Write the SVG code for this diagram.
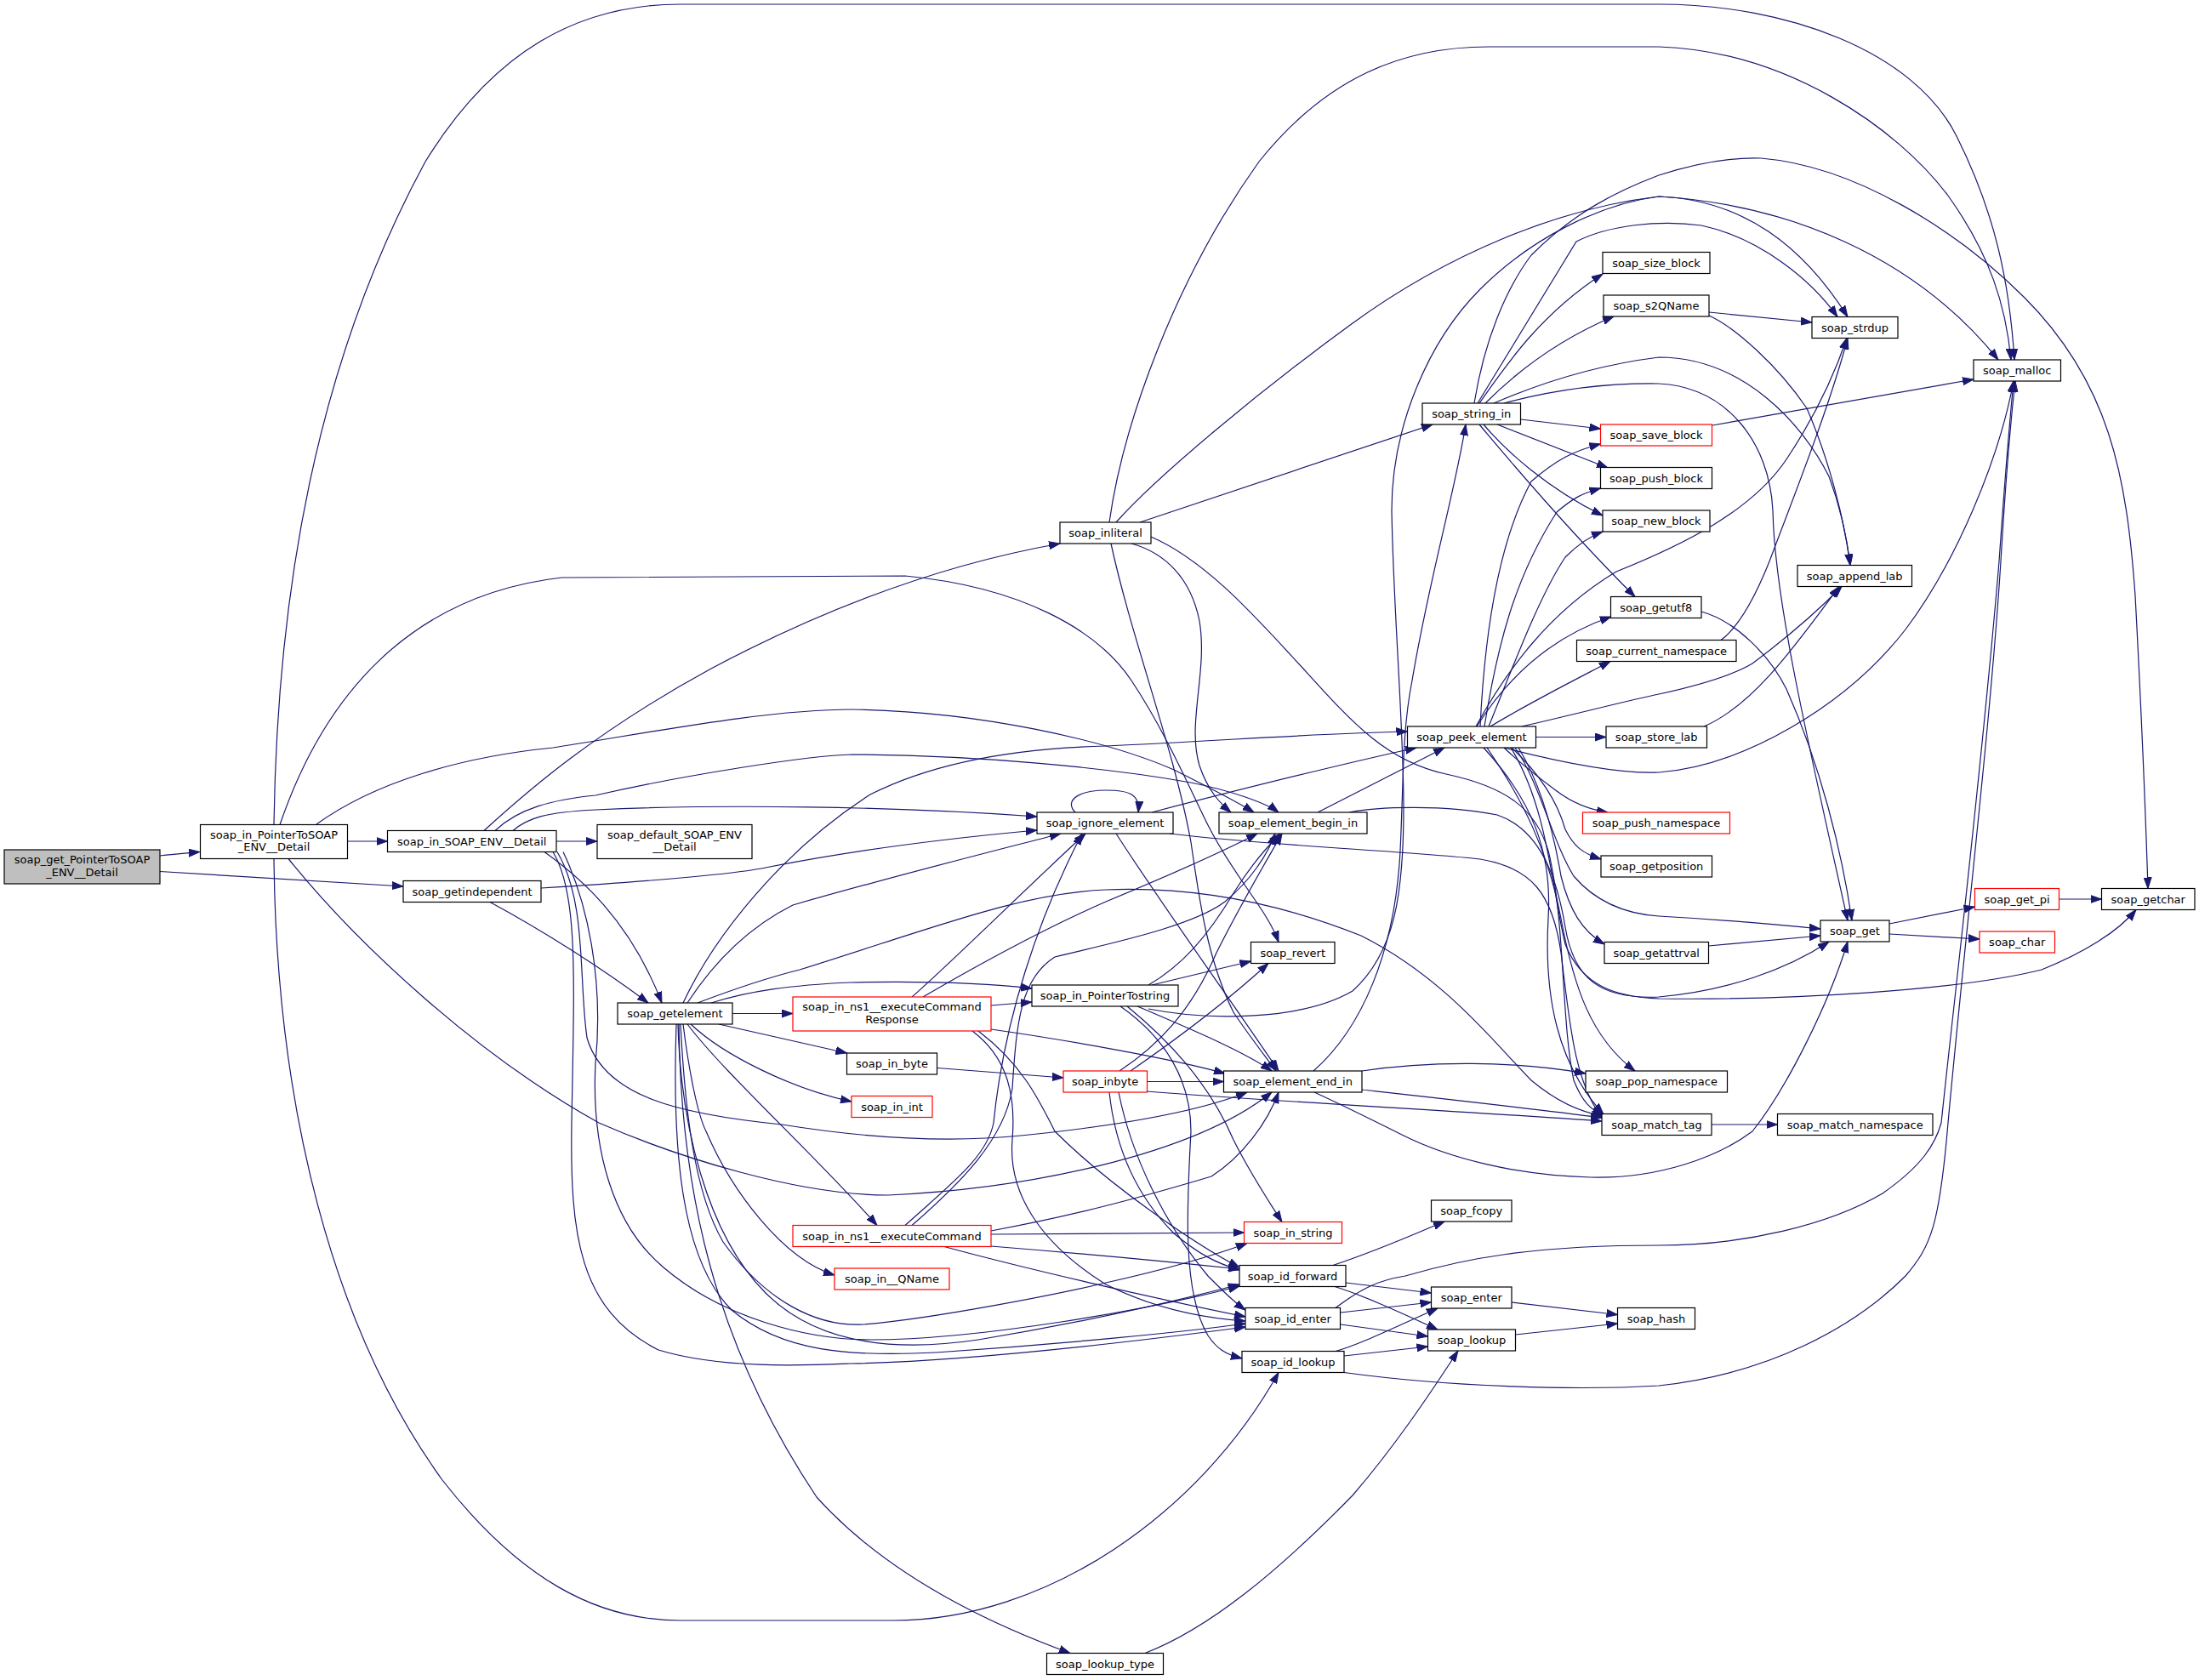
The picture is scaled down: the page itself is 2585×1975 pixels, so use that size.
<svg xmlns="http://www.w3.org/2000/svg" width="2585" height="1975" viewBox="0 0 2585 1975">
<defs>
<marker id="a" markerWidth="14" markerHeight="10" refX="13" refY="5" orient="auto" markerUnits="userSpaceOnUse"><path d="M0,0.5 L13,5 L0,9.5 Z" fill="#191970" stroke="#191970" stroke-width="1"/></marker>
<style>
.n rect{fill:#fff;stroke:#000;stroke-width:1.2}
.r rect{stroke:#f00}
.g rect{fill:#bfbfbf}
text{font-family:"DejaVu Sans","Liberation Sans",sans-serif;font-size:13px;text-anchor:middle;fill:#000}
#edges path{fill:none;stroke:#191970;stroke-width:1.2;marker-end:url(#a)}
</style>
</defs>
<rect width="2585" height="1975" fill="#fff"/>
<g id="edges">
<path d="M188,1006 C205,1004 218,1003 235,1001.5"/>
<path d="M188,1024.5 C290,1030 390,1036 474,1042"/>
<path d="M408.5,989 L455.5,989"/>
<path d="M322,969 C326,700 370,430 500,190 C580,60 680,5 800,5 L1950,5 C2100,5 2250,60 2300,160 C2345,250 2362,330 2368,423"/>
<path d="M322,1009.5 C325,1300 390,1560 520,1740 C610,1855 700,1905 800,1905 L1050,1905 C1230,1905 1410,1780 1503,1613.5"/>
<path d="M372,969 C440,920 540,890 650,879 C760,862 900,834 1002,834 C1150,836 1300,870 1380,905 C1420,925 1450,940 1474,955"/>
<path d="M329,969.5 C380,820 480,700 660,679 L1064,677 C1200,690 1290,740 1330,800 C1370,860 1400,930 1420,970 C1450,1030 1490,1070 1503,1107.5"/>
<path d="M339,1009.5 C420,1110 560,1240 704,1320 C800,1362 940,1405 1044,1405 C1200,1398 1400,1360 1495,1284"/>
<path d="M654,989 L702,989"/>
<path d="M569,976.5 C620,930 700,860 836,786 C960,720 1100,665 1246,639"/>
<path d="M603,976.5 C620,962 640,955 700,952 C850,945 1050,948 1219,960"/>
<path d="M582,976.5 C610,950 650,940 700,935 C800,912 950,888 1002,887 C1150,888 1300,902 1400,920 C1450,930 1490,945 1503,955"/>
<path d="M640,1001.5 C680,1030 740,1080 778,1179"/>
<path d="M655,1001.5 C690,1060 680,1150 690,1220 C710,1290 800,1310 919,1322 C1000,1335 1100,1345 1200,1335 C1300,1325 1400,1310 1466,1284"/>
<path d="M662,1001.5 C690,1060 710,1150 700,1250 C695,1350 720,1440 780,1490 C850,1550 950,1575 1023,1575 C1150,1575 1350,1540 1457,1512"/>
<path d="M650,1001.5 C680,1050 675,1150 672,1320 C670,1450 680,1540 774,1587 C850,1610 950,1605 1000,1603 C1150,1600 1350,1575 1464,1560"/>
<path d="M576,1060.5 C640,1095 710,1140 762,1179"/>
<path d="M636,1044 C700,1040 850,1030 900,1020 C1000,1000 1120,985 1219,976"/>
<path d="M803,1179 C840,1100 920,1000 1023,934 C1090,900 1180,880 1300,877 C1450,870 1550,862 1654.5,860"/>
<path d="M808,1179 C840,1130 880,1090 932,1064 C1050,1030 1150,1005 1247,980"/>
<path d="M820,1179 C870,1160 900,1150 940,1140 C1100,1090 1200,1050 1300,1046 C1400,1042 1500,1060 1600,1100 C1700,1150 1760,1230 1800,1270 C1830,1295 1860,1308 1885,1312"/>
<path d="M861,1191.5 L932,1191.5"/>
<path d="M836,1179 C880,1165 930,1158 1000,1155 C1100,1153 1170,1157 1213,1162"/>
<path d="M845,1204 L995.5,1238"/>
<path d="M812,1204 C850,1240 930,1280 1001,1295"/>
<path d="M808,1204 C850,1260 960,1360 1031,1440.5"/>
<path d="M803,1204 C810,1260 820,1310 830,1330 C860,1400 920,1480 981,1499"/>
<path d="M800,1204 C805,1300 815,1400 850,1460 C900,1530 960,1560 1015,1557 C1100,1550 1250,1520 1300,1508 C1380,1490 1430,1475 1466,1461.5"/>
<path d="M797,1204 C800,1320 830,1450 900,1520 C960,1580 1050,1590 1150,1575 C1300,1550 1400,1525 1457,1510"/>
<path d="M795,1204 C790,1350 800,1480 860,1540 C920,1590 1000,1595 1100,1590 C1250,1580 1400,1565 1464,1556"/>
<path d="M798,1204 C800,1400 840,1580 960,1760 C1050,1860 1180,1915 1258,1943.5"/>
<path d="M1072,1172 C1120,1130 1200,1050 1276,980"/>
<path d="M1085,1172 C1140,1140 1220,1095 1300,1060 C1360,1035 1430,1005 1478,980"/>
<path d="M1165,1182 L1213,1178"/>
<path d="M1165,1210 C1250,1222 1380,1245 1440,1262"/>
<path d="M1143,1212 C1180,1240 1195,1280 1190,1340 C1185,1400 1220,1460 1300,1510 C1360,1540 1420,1550 1464,1553"/>
<path d="M1150,1212 C1200,1250 1220,1290 1240,1330 C1300,1390 1400,1460 1457,1490"/>
<path d="M1102,1255.5 L1250,1267"/>
<path d="M1316,1259 C1360,1230 1400,1190 1430,1120 C1460,1060 1490,1010 1507,980"/>
<path d="M1329,1259 C1400,1210 1450,1170 1491,1132.5"/>
<path d="M1348.5,1271.5 L1438.5,1271.5"/>
<path d="M1348,1283 C1500,1295 1700,1305 1883,1318"/>
<path d="M1304,1284 C1310,1340 1330,1400 1380,1450 C1410,1475 1430,1485 1457,1493"/>
<path d="M1315,1284 C1330,1360 1370,1440 1420,1500 C1440,1520 1450,1530 1464,1540"/>
<path d="M1064,1440.5 C1120,1390 1160,1360 1168,1320 C1180,1200 1220,1080 1272,980"/>
<path d="M1072,1440.5 C1130,1390 1180,1340 1190,1280 C1195,1200 1200,1150 1240,1125 C1300,1110 1400,1090 1440,1060 C1470,1035 1490,1005 1499,980"/>
<path d="M1165,1447 C1230,1435 1300,1420 1424,1383 C1460,1360 1490,1320 1503,1284"/>
<path d="M1165,1451 C1300,1450 1400,1449 1462.5,1449"/>
<path d="M1165,1465 C1300,1476 1400,1486 1457,1492"/>
<path d="M1110,1465.5 C1200,1490 1350,1525 1464,1548"/>
<path d="M1350,1158 C1390,1135 1420,1100 1450,1050 C1475,1010 1495,990 1505,980"/>
<path d="M1354,1158 L1470.5,1130"/>
<path d="M1337,1183 C1400,1210 1460,1235 1495,1259"/>
<path d="M1350,1186 C1420,1200 1530,1200 1590,1165 C1640,1120 1650,1050 1650,950 C1650,850 1638,720 1636,600 C1636,500 1680,400 1740,340 C1800,280 1880,240 1950,231 C2100,240 2250,300 2349,423"/>
<path d="M1325,1183 C1370,1220 1420,1270 1450,1340 C1470,1380 1490,1410 1507,1436.5"/>
<path d="M1317,1183 C1370,1220 1400,1270 1400,1330 C1395,1420 1390,1520 1420,1570 C1430,1585 1440,1592 1460,1597"/>
<path d="M1304,614 C1320,500 1380,330 1480,190 C1560,90 1650,55 1750,55 L1950,55 C2100,60 2230,150 2290,230 C2340,300 2358,360 2364,423"/>
<path d="M1312,614 C1360,560 1480,460 1590,380 C1700,300 1830,245 1950,231 C2050,235 2120,290 2172,372.5"/>
<path d="M1340,614 L1684,499"/>
<path d="M1330,639 C1370,650 1400,680 1410,730 C1420,790 1395,850 1410,900 C1420,930 1435,945 1447,955"/>
<path d="M1306,639 C1330,750 1380,880 1400,990 C1410,1060 1420,1130 1450,1190 C1470,1220 1490,1245 1500,1259"/>
<path d="M1353,631 C1420,660 1480,730 1532,786 C1590,850 1630,895 1700,910 C1770,925 1805,950 1820,1000 C1840,1080 1835,1200 1850,1270 C1860,1295 1870,1305 1885,1311"/>
<path d="M1264,955 C1250,940 1270,929 1300,929 C1330,929 1340,935 1338,955"/>
<path d="M1354,955 C1450,930 1570,900 1665,879"/>
<path d="M1312,980 C1370,1070 1450,1180 1503,1259"/>
<path d="M1375,980 C1500,995 1650,1000 1740,1010 C1800,1020 1825,1050 1835,1120 C1845,1200 1850,1270 1883,1314"/>
<path d="M1549,955 L1698,879"/>
<path d="M1586,955 C1620,948 1700,946 1760,958 C1810,975 1830,1030 1840,1090 C1850,1150 1880,1175 1950,1172 C2030,1165 2100,1140 2150,1107"/>
<path d="M1544,1259 C1600,1210 1640,1120 1646,1000 C1650,920 1648,860 1660,800 C1680,680 1710,580 1723,499"/>
<path d="M1601,1259 C1680,1247 1780,1247 1864,1262"/>
<path d="M1601,1281 C1700,1292 1800,1303 1883,1314"/>
<path d="M1545,1284 C1580,1300 1610,1315 1650,1335 C1700,1360 1780,1382 1870,1384 C1950,1386 2020,1360 2060,1330 C2100,1280 2150,1180 2172,1107"/>
<path d="M1737,474 L1853,284 C1890,265 1950,258 2000,265 C2070,280 2130,330 2160,372.5"/>
<path d="M1733,474 C1745,400 1770,340 1800,300 C1850,250 1900,225 1950,206 C2000,190 2040,185 2070,186 C2180,195 2300,270 2380,350 C2480,450 2500,560 2510,700 C2518,850 2522,950 2525,1044.5"/>
<path d="M1739,474 C1770,430 1810,370 1884,322"/>
<path d="M1746,474 C1780,440 1830,400 1897,372"/>
<path d="M1756,474 C1800,455 1870,430 1950,420 C2050,420 2120,500 2150,560 C2165,600 2172,640 2175,664.5"/>
<path d="M1768,474 C1820,460 1880,450 1950,451 C2030,455 2080,520 2084,600 C2086,700 2120,850 2172,1082"/>
<path d="M1787.5,493 L1881.5,504"/>
<path d="M1760,499 L1890,550"/>
<path d="M1744,499 C1770,530 1820,575 1884,606"/>
<path d="M1739,499 C1790,560 1850,630 1922,701.5"/>
<path d="M1740,854 C1745,750 1760,640 1800,566 C1830,540 1850,530 1881.5,522"/>
<path d="M1745,854 C1760,760 1780,680 1830,602 C1850,585 1860,580 1881.5,574"/>
<path d="M1750,854 C1780,780 1810,700 1840,655 C1855,640 1870,630 1884,625"/>
<path d="M1736,854 C1770,800 1820,750 1894,725"/>
<path d="M1752,854 C1800,825 1850,800 1893,777.5"/>
<path d="M1735,854 C1770,790 1820,720 1900,672 C1980,640 2060,600 2100,540 C2140,480 2160,430 2171,397.5"/>
<path d="M1768,879 C1830,895 1900,910 1950,908 C2050,900 2170,830 2240,740 C2300,660 2350,540 2367,448"/>
<path d="M1789,854 C1850,840 1920,822 1950,816 C2000,805 2040,792 2060,780 C2100,750 2140,715 2165,689.5"/>
<path d="M1805.5,866.5 L1888,866.5"/>
<path d="M1768,879 C1790,900 1810,915 1830,930 C1850,945 1870,952 1890,955"/>
<path d="M1777,879 C1810,910 1830,940 1840,975 C1850,995 1860,1003 1882,1010"/>
<path d="M1781,879 C1810,920 1825,990 1850,1030 C1880,1065 1920,1075 1950,1077 C2040,1082 2100,1088 2140,1092"/>
<path d="M1785,879 C1810,920 1825,970 1835,1030 C1845,1070 1860,1095 1886,1110"/>
<path d="M1748,879 C1790,940 1820,1000 1835,1080 C1850,1160 1870,1220 1922,1259"/>
<path d="M1744,879 C1800,940 1825,1000 1820,1080 C1815,1170 1830,1250 1885,1310"/>
<path d="M1776,879 C1820,950 1825,1050 1840,1110 C1860,1160 1900,1172 1950,1174 C2100,1176 2300,1165 2400,1140 C2450,1120 2490,1095 2511,1069.5"/>
<path d="M2009,367 L2130,379"/>
<path d="M2009,371 C2040,385 2090,430 2124,480 C2150,540 2168,610 2175,664.5"/>
<path d="M2013,500 L2320,446"/>
<path d="M2000,719 C2040,730 2080,770 2100,810 C2140,900 2165,1000 2177,1082"/>
<path d="M2023,752.5 C2040,740 2060,710 2080,660 C2110,580 2150,480 2172,397.5"/>
<path d="M2003,854 C2060,830 2110,760 2162,689.5"/>
<path d="M2008.5,1112 L2140,1100"/>
<path d="M2012,1322 L2089.5,1322"/>
<path d="M2221,1086 L2321.5,1066"/>
<path d="M2221,1098 L2327,1104"/>
<path d="M2420.5,1057 L2470.5,1057"/>
<path d="M1567,1487.5 C1620,1470 1660,1452 1698,1436"/>
<path d="M1582,1508 L1682.5,1520"/>
<path d="M1569,1512.5 C1600,1522 1640,1540 1690,1563"/>
<path d="M1576,1543 L1682.5,1531"/>
<path d="M1576,1557 L1678.5,1571"/>
<path d="M1570,1537.5 C1600,1515 1620,1505 1652,1500 C1720,1480 1800,1464 1950,1464 C2050,1464 2150,1440 2213,1403 C2260,1370 2275,1345 2282,1320 C2300,1150 2330,900 2350,660 C2357,560 2362,500 2367,448"/>
<path d="M1570,1588.5 C1600,1580 1640,1560 1690,1538"/>
<path d="M1580,1594 L1678.5,1583"/>
<path d="M1580,1613.5 C1700,1630 1850,1635 1950,1629 C2080,1615 2180,1560 2240,1500 C2270,1465 2280,1440 2290,1320 C2310,1100 2340,850 2352,660 C2358,560 2363,500 2369,448"/>
<path d="M1777,1531 L1901.5,1545.5"/>
<path d="M1781.5,1569 L1901.5,1556"/>
<path d="M1346,1943.5 C1420,1915 1500,1850 1590,1758 C1640,1700 1680,1640 1714,1588"/>
</g>
<g id="n_get_PointerToSOAP_ENV__Detail" class="n g"><rect x="5" y="999" width="183" height="40"/><text x="96.5" y="1015">soap_get_PointerToSOAP</text><text x="96.5" y="1029.5">_ENV__Detail</text></g>
<g id="n_in_PointerToSOAP_ENV__Detail" class="n"><rect x="235.5" y="969.5" width="173" height="40"/><text x="322" y="985.5">soap_in_PointerToSOAP</text><text x="322" y="1000">_ENV__Detail</text></g>
<g id="n_in_SOAP_ENV__Detail" class="n"><rect x="455.5" y="976.5" width="198.5" height="25"/><text x="554.7" y="993.5">soap_in_SOAP_ENV__Detail</text></g>
<g id="n_default_SOAP_ENV__Detail" class="n"><rect x="702" y="969.5" width="182" height="40"/><text x="793" y="985.5">soap_default_SOAP_ENV</text><text x="793" y="1000">__Detail</text></g>
<g id="n_getindependent" class="n"><rect x="474" y="1035.5" width="162" height="25"/><text x="555" y="1052.5">soap_getindependent</text></g>
<g id="n_getelement" class="n"><rect x="726" y="1179" width="135" height="25"/><text x="793.5" y="1196">soap_getelement</text></g>
<g id="n_inliteral" class="n"><rect x="1246" y="614" width="107" height="25"/><text x="1299.5" y="631">soap_inliteral</text></g>
<g id="n_ignore_element" class="n"><rect x="1219" y="955" width="160" height="25"/><text x="1299" y="972">soap_ignore_element</text></g>
<g id="n_element_begin_in" class="n"><rect x="1433" y="955" width="174" height="25"/><text x="1520" y="972">soap_element_begin_in</text></g>
<g id="n_revert" class="n"><rect x="1470.5" y="1107.5" width="98.5" height="25"/><text x="1519.7" y="1124.5">soap_revert</text></g>
<g id="n_in_PointerTostring" class="n"><rect x="1213" y="1158" width="172" height="25"/><text x="1299" y="1175">soap_in_PointerTostring</text></g>
<g id="n_in_ns1__executeCommandResponse" class="n r"><rect x="932" y="1172" width="233" height="40"/><text x="1048.5" y="1188">soap_in_ns1__executeCommand</text><text x="1048.5" y="1202.5">Response</text></g>
<g id="n_in_byte" class="n"><rect x="995.5" y="1238" width="106" height="25"/><text x="1048.5" y="1255">soap_in_byte</text></g>
<g id="n_in_int" class="n r"><rect x="1001" y="1288.5" width="95" height="25"/><text x="1048.5" y="1305.5">soap_in_int</text></g>
<g id="n_inbyte" class="n r"><rect x="1250" y="1259" width="98.5" height="25"/><text x="1299.2" y="1276">soap_inbyte</text></g>
<g id="n_element_end_in" class="n"><rect x="1438.5" y="1259" width="162.5" height="25"/><text x="1519.7" y="1276">soap_element_end_in</text></g>
<g id="n_in_ns1__executeCommand" class="n r"><rect x="932" y="1440.5" width="233" height="25"/><text x="1048.5" y="1457.5">soap_in_ns1__executeCommand</text></g>
<g id="n_in__QName" class="n r"><rect x="981" y="1491" width="135" height="25"/><text x="1048.5" y="1508">soap_in__QName</text></g>
<g id="n_in_string" class="n r"><rect x="1462.5" y="1436.5" width="115" height="25"/><text x="1520" y="1453.5">soap_in_string</text></g>
<g id="n_id_forward" class="n"><rect x="1457" y="1487.5" width="125" height="25"/><text x="1519.5" y="1504.5">soap_id_forward</text></g>
<g id="n_id_enter" class="n"><rect x="1464" y="1537.5" width="111.5" height="25"/><text x="1519.7" y="1554.5">soap_id_enter</text></g>
<g id="n_id_lookup" class="n"><rect x="1460" y="1588.5" width="120" height="25"/><text x="1520" y="1605.5">soap_id_lookup</text></g>
<g id="n_lookup_type" class="n"><rect x="1230.5" y="1943.5" width="137" height="25"/><text x="1299" y="1960.5">soap_lookup_type</text></g>
<g id="n_string_in" class="n"><rect x="1672" y="474" width="115.5" height="25"/><text x="1729.7" y="491">soap_string_in</text></g>
<g id="n_peek_element" class="n"><rect x="1654.5" y="854" width="151" height="25"/><text x="1730" y="871">soap_peek_element</text></g>
<g id="n_size_block" class="n"><rect x="1884" y="296.5" width="126" height="25"/><text x="1947" y="313.5">soap_size_block</text></g>
<g id="n_s2QName" class="n"><rect x="1885" y="347" width="124" height="25"/><text x="1947" y="364">soap_s2QName</text></g>
<g id="n_save_block" class="n r"><rect x="1881.5" y="499" width="131" height="25"/><text x="1947" y="516">soap_save_block</text></g>
<g id="n_push_block" class="n"><rect x="1881.5" y="549.5" width="131" height="25"/><text x="1947" y="566.5">soap_push_block</text></g>
<g id="n_new_block" class="n"><rect x="1884" y="600" width="126" height="25"/><text x="1947" y="617">soap_new_block</text></g>
<g id="n_getutf8" class="n"><rect x="1893.5" y="701.5" width="106.5" height="25"/><text x="1946.7" y="718.5">soap_getutf8</text></g>
<g id="n_current_namespace" class="n"><rect x="1853.5" y="752.5" width="187.5" height="25"/><text x="1947.2" y="769.5">soap_current_namespace</text></g>
<g id="n_store_lab" class="n"><rect x="1888" y="854" width="118.5" height="25"/><text x="1947.2" y="871">soap_store_lab</text></g>
<g id="n_push_namespace" class="n r"><rect x="1860.5" y="955" width="173" height="25"/><text x="1947" y="972">soap_push_namespace</text></g>
<g id="n_getposition" class="n"><rect x="1882" y="1006" width="130.5" height="25"/><text x="1947.2" y="1023">soap_getposition</text></g>
<g id="n_getattrval" class="n"><rect x="1886" y="1107.5" width="122.5" height="25"/><text x="1947.2" y="1124.5">soap_getattrval</text></g>
<g id="n_pop_namespace" class="n"><rect x="1864" y="1259" width="166.5" height="25"/><text x="1947.2" y="1276">soap_pop_namespace</text></g>
<g id="n_match_tag" class="n"><rect x="1883" y="1309.5" width="129" height="25"/><text x="1947.5" y="1326.5">soap_match_tag</text></g>
<g id="n_match_namespace" class="n"><rect x="2089.5" y="1309.5" width="182.5" height="25"/><text x="2180.7" y="1326.5">soap_match_namespace</text></g>
<g id="n_fcopy" class="n"><rect x="1682.5" y="1411" width="94.5" height="25"/><text x="1729.7" y="1428">soap_fcopy</text></g>
<g id="n_enter" class="n"><rect x="1682.5" y="1513" width="94.5" height="25"/><text x="1729.7" y="1530">soap_enter</text></g>
<g id="n_lookup" class="n"><rect x="1678.5" y="1563" width="103" height="25"/><text x="1730" y="1580">soap_lookup</text></g>
<g id="n_hash" class="n"><rect x="1901.5" y="1537.5" width="91" height="25"/><text x="1947" y="1554.5">soap_hash</text></g>
<g id="n_strdup" class="n"><rect x="2130" y="372.5" width="101" height="25"/><text x="2180.5" y="389.5">soap_strdup</text></g>
<g id="n_malloc" class="n"><rect x="2320" y="423" width="102.5" height="25"/><text x="2371.2" y="440">soap_malloc</text></g>
<g id="n_append_lab" class="n"><rect x="2113" y="664.5" width="134.5" height="25"/><text x="2180.2" y="681.5">soap_append_lab</text></g>
<g id="n_get" class="n"><rect x="2140" y="1082" width="81" height="25"/><text x="2180.5" y="1099">soap_get</text></g>
<g id="n_get_pi" class="n r"><rect x="2321.5" y="1044.5" width="99" height="25"/><text x="2371" y="1061.5">soap_get_pi</text></g>
<g id="n_getchar" class="n"><rect x="2470.5" y="1044.5" width="109.5" height="25"/><text x="2525.2" y="1061.5">soap_getchar</text></g>
<g id="n_char" class="n r"><rect x="2327" y="1095" width="88.5" height="25"/><text x="2371.2" y="1112">soap_char</text></g>
</svg>
